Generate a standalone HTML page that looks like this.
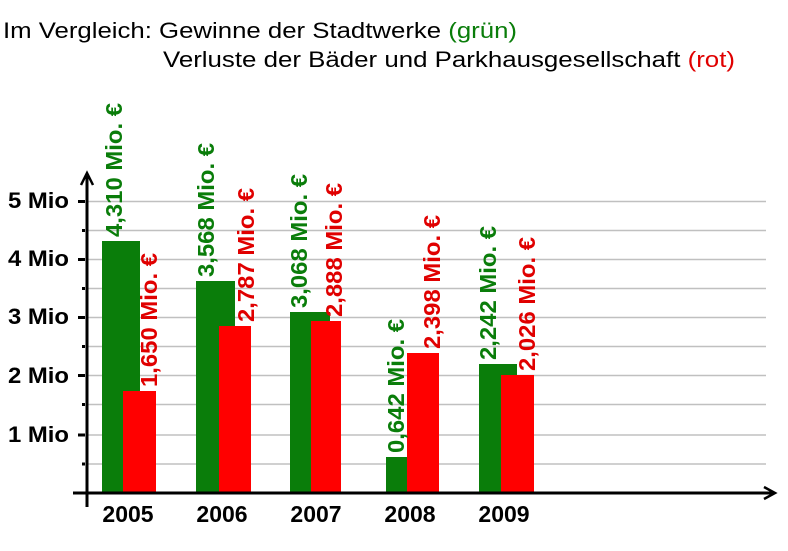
<!DOCTYPE html>
<html><head><meta charset="utf-8"><style>
html,body{margin:0;padding:0;background:#fff;}
svg{display:block;font-family:"Liberation Sans",Arial,sans-serif;}
</style></head><body>
<svg width="788" height="551" viewBox="0 0 788 551" xmlns="http://www.w3.org/2000/svg">
<rect width="788" height="551" fill="#fff"/>
<text x="3" y="38" font-size="22" textLength="514" lengthAdjust="spacingAndGlyphs" fill="#000">Im Vergleich: Gewinne der Stadtwerke <tspan fill="#0a7d0a">(grün)</tspan></text>
<text x="163" y="67" font-size="22" textLength="572" lengthAdjust="spacingAndGlyphs" fill="#000">Verluste der Bäder und Parkhausgesellschaft <tspan fill="#e00000">(rot)</tspan></text>
<g stroke="#c0c0c0" stroke-width="1.5">
<line x1="88" y1="201.5" x2="766" y2="201.5"/>
<line x1="88" y1="230.5" x2="766" y2="230.5"/>
<line x1="88" y1="259.5" x2="766" y2="259.5"/>
<line x1="88" y1="288.5" x2="766" y2="288.5"/>
<line x1="88" y1="317.5" x2="766" y2="317.5"/>
<line x1="88" y1="346.5" x2="766" y2="346.5"/>
<line x1="88" y1="375.5" x2="766" y2="375.5"/>
<line x1="88" y1="404.5" x2="766" y2="404.5"/>
<line x1="88" y1="435" x2="766" y2="435"/>
<line x1="88" y1="464" x2="766" y2="464"/>
</g>
<g fill="#0a7d0a">
<rect x="102" y="241" width="38" height="252"/>
<rect x="196" y="281" width="39" height="212"/>
<rect x="290" y="312" width="40" height="181"/>
<rect x="386" y="457" width="21" height="36"/>
<rect x="479" y="364" width="38" height="129"/>
</g>
<g fill="#ff0000">
<rect x="123" y="391" width="33" height="102"/>
<rect x="219" y="326" width="32" height="167"/>
<rect x="311" y="321" width="30" height="172"/>
<rect x="407" y="353" width="32" height="140"/>
<rect x="501" y="375" width="33" height="118"/>
</g>
<g font-size="23" font-weight="bold" fill="#0a7d0a">
<text transform="translate(122,237) rotate(-90)" textLength="134" lengthAdjust="spacingAndGlyphs">4,310 Mio. €</text>
<text transform="translate(214,277) rotate(-90)" textLength="134" lengthAdjust="spacingAndGlyphs">3,568 Mio. €</text>
<text transform="translate(307,308) rotate(-90)" textLength="134" lengthAdjust="spacingAndGlyphs">3,068 Mio. €</text>
<text transform="translate(404,453) rotate(-90)" textLength="134" lengthAdjust="spacingAndGlyphs">0,642 Mio. €</text>
<text transform="translate(496,360) rotate(-90)" textLength="134" lengthAdjust="spacingAndGlyphs">2,242 Mio. €</text>
</g>
<g font-size="23" font-weight="bold" fill="#e00000">
<text transform="translate(157,387) rotate(-90)" textLength="134" lengthAdjust="spacingAndGlyphs">1,650 Mio. €</text>
<text transform="translate(254,322) rotate(-90)" textLength="134" lengthAdjust="spacingAndGlyphs">2,787 Mio. €</text>
<text transform="translate(342,317) rotate(-90)" textLength="134" lengthAdjust="spacingAndGlyphs">2,888 Mio. €</text>
<text transform="translate(440,349) rotate(-90)" textLength="134" lengthAdjust="spacingAndGlyphs">2,398 Mio. €</text>
<text transform="translate(535,371) rotate(-90)" textLength="134" lengthAdjust="spacingAndGlyphs">2,026 Mio. €</text>
</g>
<g stroke="#000" stroke-width="3" fill="none">
<line x1="87" y1="176" x2="87" y2="507"/>
<line x1="73" y1="493" x2="773" y2="493"/>
<polyline points="81,185 87,173 93,185" stroke-width="2.5"/>
<polyline points="764,487 775,493 764,499" stroke-width="2.5"/>
</g>
<g stroke="#000" stroke-width="3">
<line x1="78" y1="201.5" x2="85" y2="201.5"/>
<line x1="78" y1="259.5" x2="85" y2="259.5"/>
<line x1="78" y1="317.5" x2="85" y2="317.5"/>
<line x1="78" y1="375.5" x2="85" y2="375.5"/>
<line x1="78" y1="435" x2="85" y2="435"/>
<line x1="82" y1="230.5" x2="85" y2="230.5"/>
<line x1="82" y1="288.5" x2="85" y2="288.5"/>
<line x1="82" y1="346.5" x2="85" y2="346.5"/>
<line x1="82" y1="404.5" x2="85" y2="404.5"/>
<line x1="82" y1="464" x2="85" y2="464"/>
</g>
<g font-size="22" font-weight="bold" fill="#000">
<text x="8" y="208" textLength="61" lengthAdjust="spacingAndGlyphs">5 Mio</text>
<text x="8" y="266" textLength="61" lengthAdjust="spacingAndGlyphs">4 Mio</text>
<text x="8" y="324" textLength="61" lengthAdjust="spacingAndGlyphs">3 Mio</text>
<text x="8" y="383" textLength="61" lengthAdjust="spacingAndGlyphs">2 Mio</text>
<text x="8" y="442" textLength="61" lengthAdjust="spacingAndGlyphs">1 Mio</text>
</g>
<g font-size="23" font-weight="bold" fill="#000" text-anchor="middle">
<text x="128" y="522">2005</text>
<text x="222" y="522">2006</text>
<text x="316" y="522">2007</text>
<text x="410" y="522">2008</text>
<text x="504" y="522">2009</text>
</g>
</svg>
</body></html>
